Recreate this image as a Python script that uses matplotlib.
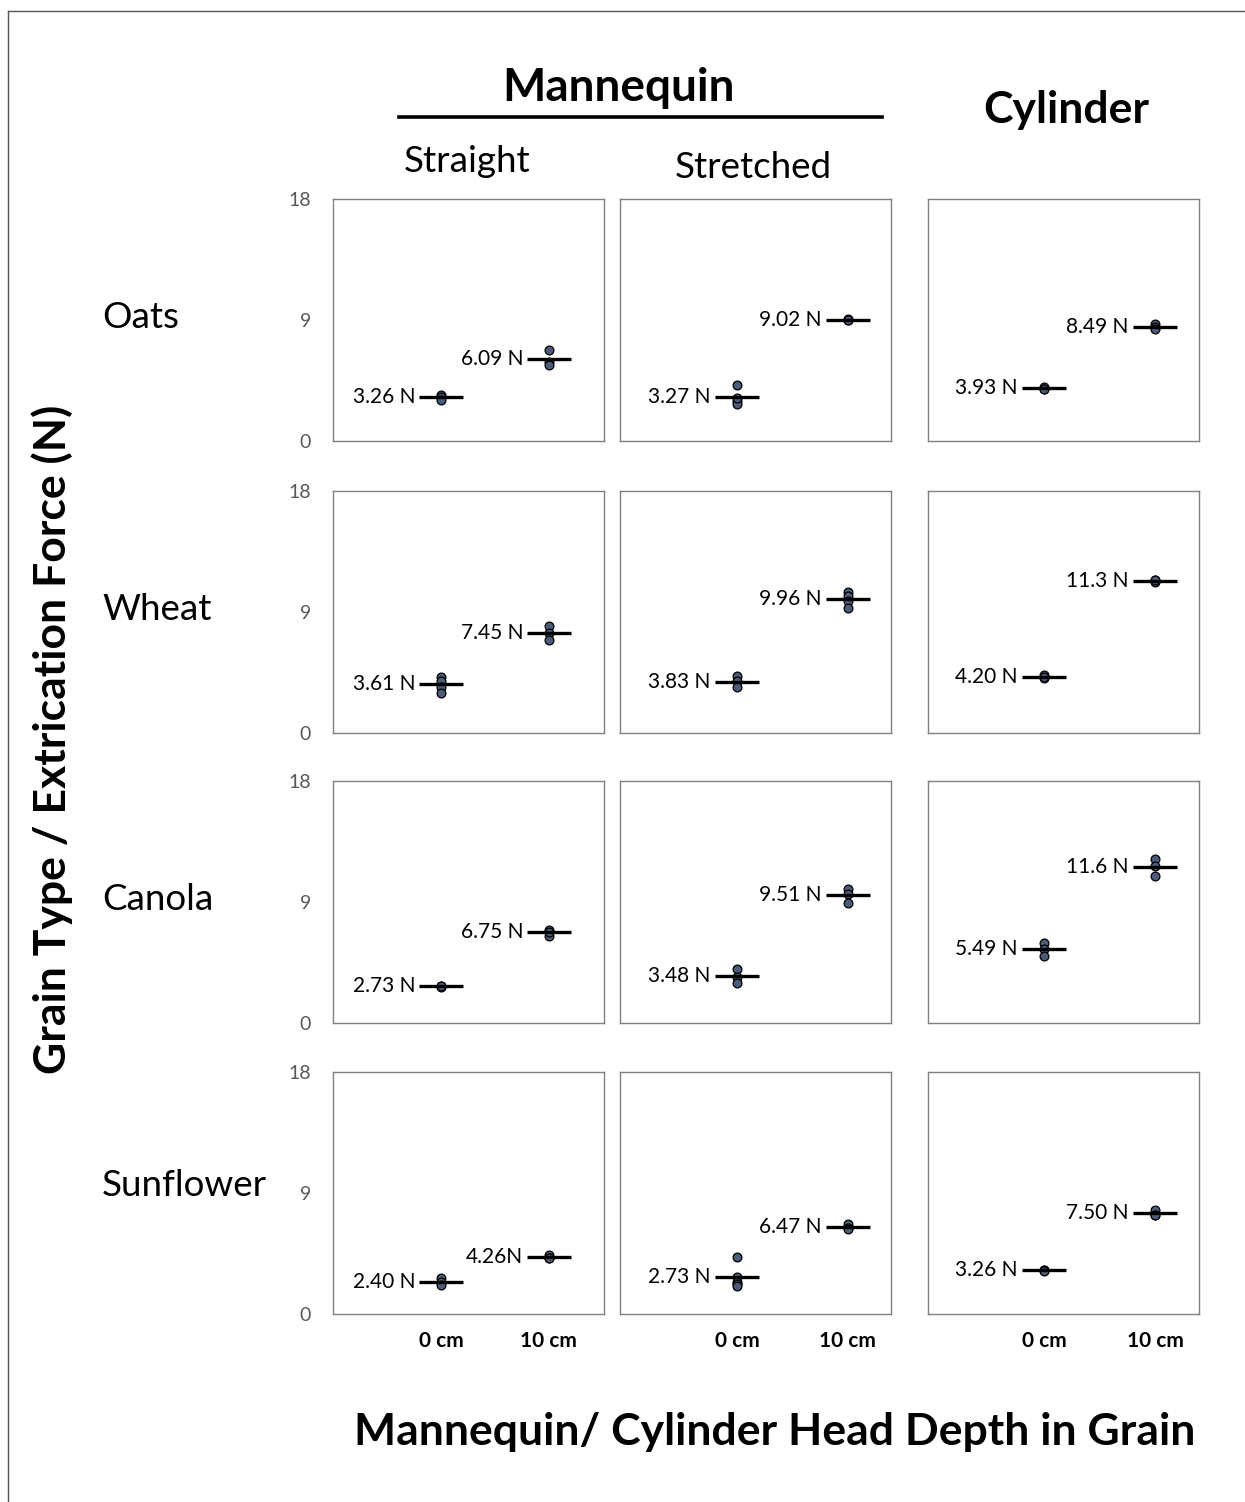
import matplotlib
matplotlib.use("Agg")
import matplotlib.pyplot as plt
from matplotlib.lines import Line2D

plt.rcParams['font.family'] = ['Lato', 'DejaVu Sans']

grains = ["Oats", "Wheat", "Canola", "Sunflower"]
setups = ["Straight", "Stretched", "Cylinder"]
depths = ["0 cm", "10 cm"]
y_ticks = [0, 9, 18]

# Mean extrication force printed beside each mean bar: [grain][setup][depth]
mean_labels = [
    [["3.26 N", "6.09 N"], ["3.27 N", "9.02 N"], ["3.93 N", "8.49 N"]],
    [["3.61 N", "7.45 N"], ["3.83 N", "9.96 N"], ["4.20 N", "11.3 N"]],
    [["2.73 N", "6.75 N"], ["3.48 N", "9.51 N"], ["5.49 N", "11.6 N"]],
    [["2.40 N", "4.26N"], ["2.73 N", "6.47 N"], ["3.26 N", "7.50 N"]],
]

# Individual trial forces (N): [setup][depth]
oats_trials = [
    [[3.45, 3.30, 3.03], [6.75, 5.90, 5.62]],
    [[4.15, 3.00, 2.75, 3.20], [9.05, 9.00, 9.01]],
    [[4.00, 3.90, 3.89], [8.70, 8.45, 8.32]],
]
wheat_trials = [
    [[4.15, 3.85, 3.45, 3.00], [7.95, 7.45, 6.95]],
    [[4.25, 3.85, 3.40], [10.50, 10.20, 9.83, 9.33]],
    [[4.35, 4.10, 4.15], [11.35, 11.20, 11.35]],
]
canola_trials = [
    [[2.75, 2.70, 2.74], [6.95, 6.50, 6.80]],
    [[4.05, 3.40, 3.00], [10.00, 9.60, 8.93]],
    [[5.95, 5.50, 5.02], [12.20, 11.70, 10.90]],
]
sunflower_trials = [
    [[2.65, 2.40, 2.15], [4.40, 4.20, 4.18]],
    [[4.25, 2.75, 2.40, 2.20, 2.05], [6.70, 6.40, 6.30]],
    [[3.30, 3.25, 3.23], [7.75, 7.40, 7.35]],
]
trials = [oats_trials, wheat_trials, canola_trials, sunflower_trials]

W, H = 1245, 1502
fig = plt.figure(figsize=(W / 100, H / 100), dpi=100)
fig.patch.set_facecolor("white")


def fx(px):
    return px / W


def fy(py):
    return 1 - py / H


col_left = [333, 620, 928]
row_top = [199, 491, 781, 1072]
panel_w, panel_h = 271, 242
col_xlim = [(-1.0, 1.51), (-1.056, 1.389), (-1.044, 1.395)]
half_bar = 0.2

dot_color = "#4b5b78"

for r, grain in enumerate(grains):
    for c, setup in enumerate(setups):
        ax = fig.add_axes([fx(col_left[c]), fy(row_top[r] + panel_h),
                           fx(panel_w), panel_h / H])
        ax.set_xlim(*col_xlim[c])
        ax.set_ylim(0, 18)
        for sp in ax.spines.values():
            sp.set_color("#808080")
            sp.set_linewidth(1.0)
        for d in range(2):
            vals = trials[r][c][d]
            label = mean_labels[r][c][d]
            mean = float(label.replace("N", "").strip())
            ax.scatter([d] * len(vals), vals, s=40, color=dot_color,
                       edgecolor="black", linewidth=0.9, zorder=3)
            ax.plot([d - half_bar, d + half_bar], [mean, mean],
                    color="black", lw=2.4, zorder=4, solid_capstyle="butt")
            ax.annotate(label, xy=(d - half_bar, mean), xytext=(-3, 0),
                        textcoords="offset points", ha="right", va="center",
                        fontsize=15, color="black")
        ax.set_xticks([0, 1])
        if r == len(grains) - 1:
            ax.set_xticklabels(depths, fontsize=15, fontweight="bold")
            ax.tick_params(axis="x", length=0, pad=12)
        else:
            ax.set_xticklabels([])
            ax.tick_params(axis="x", length=0)
        ax.set_yticks(y_ticks)
        if c == 0:
            ax.set_yticklabels([str(t) for t in y_ticks], fontsize=14,
                               color="#595959")
            ax.tick_params(axis="y", length=0, pad=16)
        else:
            ax.set_yticklabels([])
            ax.tick_params(axis="y", length=0)

    ax_y = row_top[r] + 119 if r < 3 else row_top[r] + 113
    fig.text(fx(102), fy(ax_y), grain, fontsize=26.5, ha="left", va="center")

# Column headers
fig.text(fx(618), fy(88), "Mannequin", fontsize=33, fontweight="bold",
         ha="center", va="center")
fig.add_artist(Line2D([fx(399), fx(882)], [fy(117), fy(117)],
                      color="black", lw=2.6))
fig.text(fx(1066), fy(110), "Cylinder", fontsize=32, fontweight="bold",
         ha="center", va="center")
fig.text(fx(467), fy(162), "Straight", fontsize=26.5, ha="center", va="center")
fig.text(fx(753), fy(168), "Stretched", fontsize=26.5, ha="center", va="center")

# Axis titles
fig.text(fx(52), fy(739), "Grain Type / Extrication Force (N)", fontsize=32,
         fontweight="bold", rotation=90, ha="center", va="center")
fig.text(fx(775), fy(1432), "Mannequin/ Cylinder Head Depth in Grain",
         fontsize=32, fontweight="bold", ha="center", va="center")

# Outer frame
fig.add_artist(Line2D([fx(8), fx(1245)], [fy(11), fy(11)], color="#555555", lw=1))
fig.add_artist(Line2D([fx(8), fx(8)], [fy(11), fy(1502)], color="#555555", lw=1))

fig.savefig("out.png", dpi=100)
